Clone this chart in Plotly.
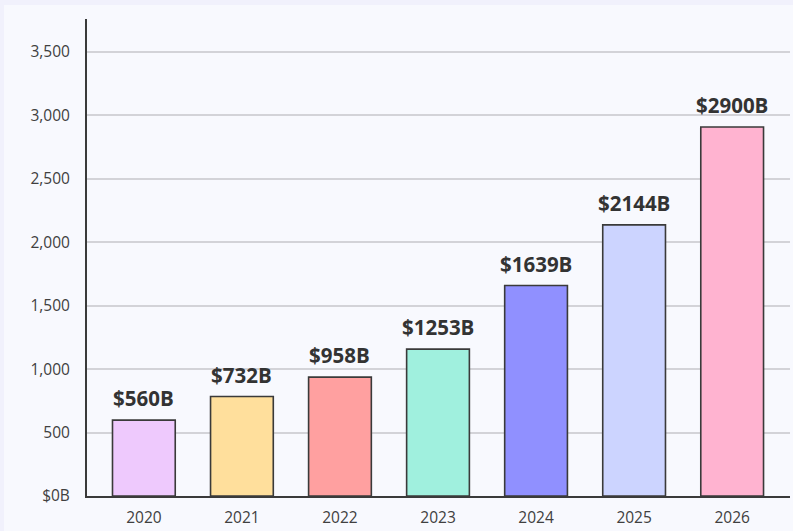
import plotly.graph_objects as go

years = ["2020", "2021", "2022", "2023", "2024", "2025", "2026"]
bar_heights = [598, 784, 937, 1158, 1659, 2137, 2909]
value_labels = ["$560B", "$732B", "$958B", "$1253B", "$1639B", "$2144B", "$2900B"]
bar_colors = ["#eec9fd", "#ffdf9c", "#ffa0a0", "#a0f0de", "#9090ff", "#ccd4ff", "#ffb3d0"]
y_tickvals = [0, 500, 1000, 1500, 2000, 2500, 3000, 3500]
y_ticktext = ["$0B", "500", "1,000", "1,500", "2,000", "2,500", "3,000", "3,500"]

fig = go.Figure()
fig.add_trace(go.Bar(
    x=years, y=bar_heights,
    marker=dict(color=bar_colors, line=dict(color="#3a3a3a", width=1.6)),
    width=0.64,
    hoverinfo="skip",
))

for i, (h, lab) in enumerate(zip(bar_heights, value_labels)):
    fig.add_annotation(x=i, y=h, xref="x", yref="y", text=lab, showarrow=False,
                       yanchor="bottom", yshift=6,
                       font=dict(family="Open Sans", size=20.5, color="#333333", weight="bold"))

fig.update_layout(
    width=789, height=526,
    margin=dict(l=83, r=3, t=14, b=35),
    paper_bgcolor="#f8f9fe",
    plot_bgcolor="#f8f9fe",
    showlegend=False,
    font=dict(family="Open Sans", size=16, color="#444444"),
    xaxis=dict(
        type="category", range=[-0.58, 6.59],
        showline=True, linecolor="#3a3a3a", linewidth=2,
        showgrid=False, ticks="", ticklabelstandoff=6,
        tickfont=dict(size=15.5, color="#404040"),
        fixedrange=True,
    ),
    yaxis=dict(
        range=[0, 3760],
        tickvals=y_tickvals, ticktext=y_ticktext,
        showline=True, linecolor="#3a3a3a", linewidth=2,
        showgrid=True, gridcolor="#d3d3d8", gridwidth=1.5,
        zeroline=False, ticks="", ticklabelstandoff=12,
        tickfont=dict(size=15.5, color="#404040"),
        fixedrange=True,
    ),
)

fig.write_html(
    "out.html",
    post_script="document.body.style.margin='5px 0 0 4px';document.body.style.background='#f1f1fc';",
)
